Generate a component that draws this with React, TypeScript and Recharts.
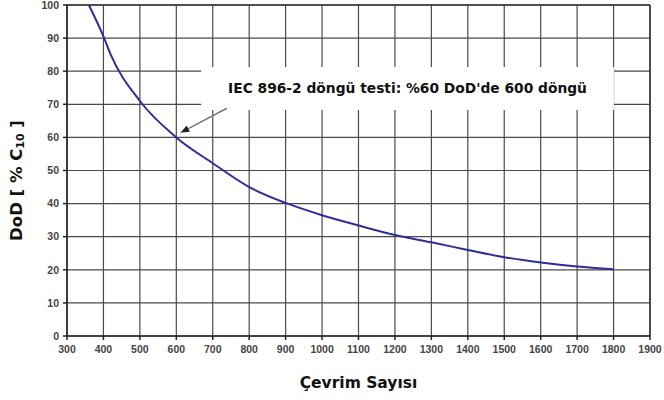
import React from "react";
import {
  LineChart,
  Line,
  XAxis,
  YAxis,
  CartesianGrid,
  ReferenceArea,
  ReferenceLine,
} from "recharts";

// Data
const cycles = [360, 400, 420, 500, 600, 700, 800, 900, 1000, 1100, 1200, 1300, 1400, 1500, 1600, 1700, 1800];
const dod = [100, 90.5, 85, 71, 60, 52.2, 45, 40.2, 36.5, 33.4, 30.5, 28.3, 26, 23.8, 22.2, 21, 20.2];
const xTicks = [300, 400, 500, 600, 700, 800, 900, 1000, 1100, 1200, 1300, 1400, 1500, 1600, 1700, 1800, 1900];
const yTicks = [0, 10, 20, 30, 40, 50, 60, 70, 80, 90, 100];

const annotationText = "IEC 896-2 döngü testi: %60 DoD'de 600 döngü";
const annotationBox = { x1: 668, x2: 1801, y1: 68.3, y2: 81.3 };
const arrowFrom = { x: 739, y: 68.8 };
const arrowTo = { x: 611, y: 61.4 };

const xLabel = "Çevrim Sayısı";

const data = cycles.map((c, i) => ({ cycles: c, dod: dod[i] }));

const ArrowShape = (props: any) => {
  const { x1, y1, x2, y2 } = props;
  if ([x1, y1, x2, y2].some((v) => typeof v !== "number" || isNaN(v))) return null;
  const ang = Math.atan2(y2 - y1, x2 - x1);
  const len = 9;
  const w = 3.5;
  const bx = x2 - len * Math.cos(ang);
  const by = y2 - len * Math.sin(ang);
  const px = -Math.sin(ang) * w;
  const py = Math.cos(ang) * w;
  return (
    <g>
      <line x1={x1} y1={y1} x2={bx} y2={by} stroke="#777" strokeWidth={1.5} />
      <polygon points={`${x2},${y2} ${bx + px},${by + py} ${bx - px},${by - py}`} fill="#222" />
    </g>
  );
};

const BoxLabel = (props: any) => {
  const vb = props.viewBox || {};
  const cx = vb.x + vb.width / 2;
  const cy = vb.y + vb.height / 2;
  return (
    <text
      x={cx}
      y={cy}
      textAnchor="middle"
      dominantBaseline="central"
      fontFamily="'DejaVu Sans', sans-serif"
      fontWeight="bold"
      fontSize={13.8}
      fill="#111"
    >
      {annotationText}
    </text>
  );
};

const YLabel = (props: any) => {
  const vb = props.viewBox || {};
  const x = 16;
  const y = vb.y + vb.height / 2 + 10;
  return (
    <text
      x={x}
      y={y}
      transform={`rotate(-90, ${x}, ${y})`}
      textAnchor="middle"
      dominantBaseline="central"
      fontFamily="'DejaVu Sans', sans-serif"
      fontWeight="bold"
      fontSize={16.5}
      fill="#111"
    >
      <tspan>DoD [ % C</tspan>
      <tspan fontSize={11} dy={4}>10</tspan>
      <tspan dy={-4}> ]</tspan>
    </text>
  );
};

const XLabel = (props: any) => {
  const vb = props.viewBox || {};
  return (
    <text
      x={vb.x + vb.width / 2}
      y={383}
      textAnchor="middle"
      dominantBaseline="central"
      fontFamily="'DejaVu Sans', sans-serif"
      fontWeight="bold"
      fontSize={15.5}
      fill="#111"
    >
      {xLabel}
    </text>
  );
};

const tickStyle = {
  fontFamily: "'Liberation Sans', Arial, sans-serif",
  fontWeight: "bold" as const,
  fontSize: 10.5,
  fill: "#444",
};

export default function App() {
  return (
    <div style={{ position: "absolute", left: 0, top: 0, width: 664, height: 400, background: "#fff" }}>
      <LineChart
        width={664}
        height={400}
        data={data}
        margin={{ top: 5, right: 14, left: 0, bottom: 0 }}
      >
        <CartesianGrid stroke="#4a4a4a" strokeWidth={1.2} />
        <XAxis
          dataKey="cycles"
          type="number"
          domain={[300, 1900]}
          ticks={xTicks}
          interval={0}
          tick={tickStyle}
          tickSize={4}
          tickMargin={6}
          stroke="#222"
          strokeWidth={1.5}
          height={64}
          label={<XLabel />}
        />
        <YAxis
          type="number"
          domain={[0, 100]}
          ticks={yTicks}
          interval={0}
          tick={tickStyle}
          tickSize={4}
          tickMargin={4}
          stroke="#222"
          strokeWidth={1.5}
          width={67}
          label={<YLabel />}
        />
        <ReferenceLine y={100} stroke="#333" strokeWidth={1.5} />
        <ReferenceLine x={1900} stroke="#333" strokeWidth={1.5} />
        <ReferenceArea
          x1={annotationBox.x1}
          x2={annotationBox.x2}
          y1={annotationBox.y1}
          y2={annotationBox.y2}
          fill="#fff"
          fillOpacity={1}
          stroke="none"
          label={<BoxLabel />}
        />
        <ReferenceLine
          segment={[arrowFrom, arrowTo]}
          shape={<ArrowShape />}
        />
        <Line
          type="monotone"
          dataKey="dod"
          stroke="#2e2e96"
          strokeWidth={2}
          dot={false}
          isAnimationActive={false}
        />
      </LineChart>
    </div>
  );
}
